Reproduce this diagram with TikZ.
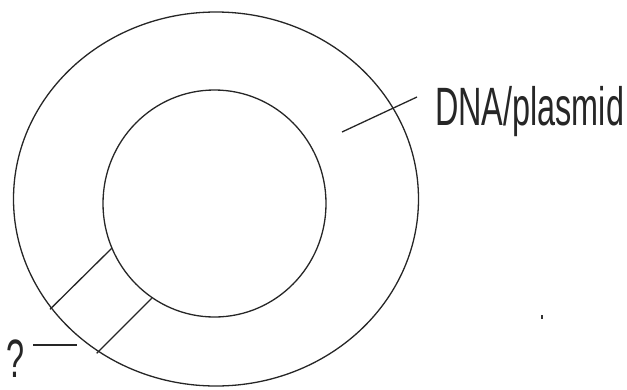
\documentclass[tikz,border=0pt]{standalone}
\usepackage{fontspec}
\setmainfont{Liberation Sans}
\tikzset{
  ring/.style={draw=black!85, line width=1.3pt},
  leader/.style={draw=black!85, line width=1.3pt},
  lbl/.style={inner sep=0pt, anchor=base west, xscale=0.6, text=black!85,
    font=\fontsize{54}{62}\selectfont}
}
\begin{document}
\begin{tikzpicture}[x=1pt,y=-1pt]
\useasboundingbox (0,0) rectangle (627,389);
% rings
\draw[ring] (216,199) ellipse [x radius=202.5, y radius=187];
\draw[ring] (214.5,203.5) ellipse [x radius=111.5, y radius=113.5];
% radial lines
\coordinate (i1) at (111.7,248.3);
\coordinate (o1) at (50,309.3);
\coordinate (i2) at (151.7,298.3);
\coordinate (o2) at (96.7,353.3);
\draw[leader] (i1) -- (o1);
\draw[leader] (i2) -- (o2);
% labels
\node[lbl] (dna) at (435,125) {DNA/plasmid};
\coordinate (d1) at (342,132);
\coordinate (d2) at (417,97);
\draw[leader] (d1) -- (d2);
\node[lbl] (q) at (6,377) {?};
\coordinate (q1) at (33,345);
\coordinate (q2) at (77,345);
\draw[leader] (q1) -- (q2);
% stray dot
\fill[black!80] (541,315) rectangle (543,319);
\end{tikzpicture}
\end{document}
